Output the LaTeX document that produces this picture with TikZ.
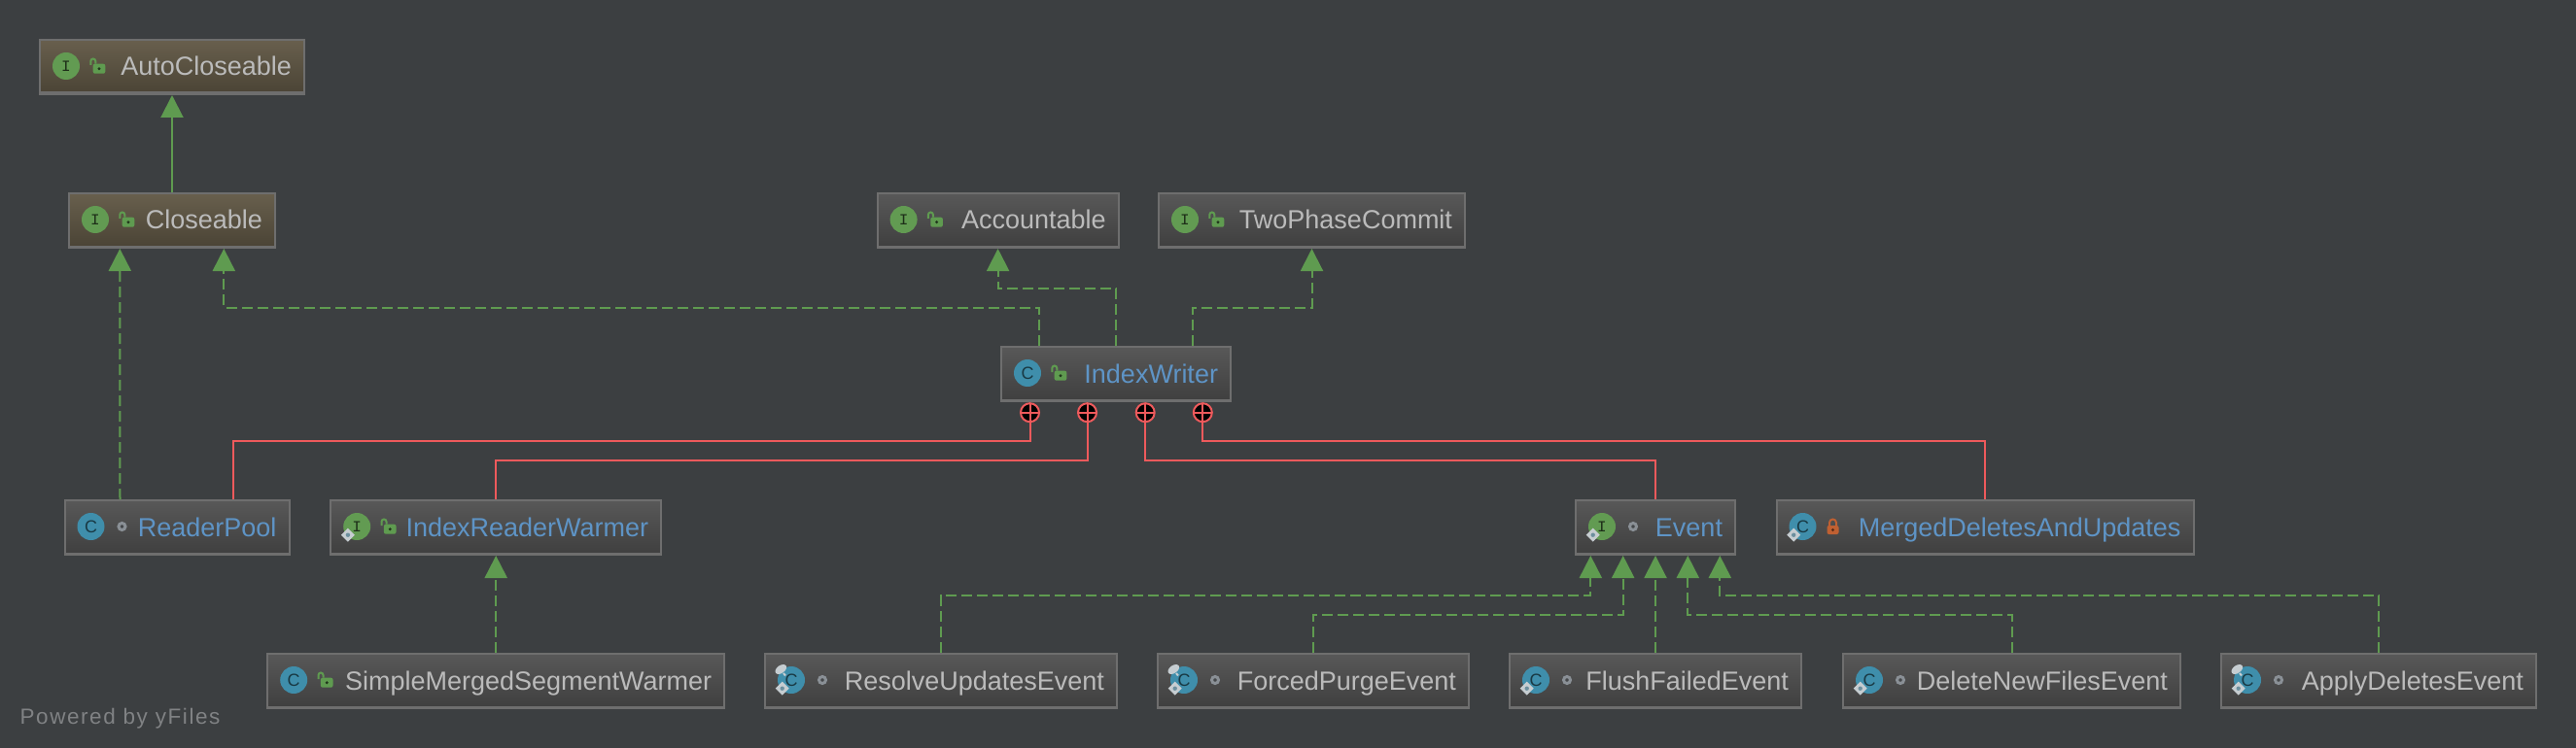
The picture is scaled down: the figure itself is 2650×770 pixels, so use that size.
\documentclass[tikz,border=0pt]{standalone}
\usepackage{fontspec}
\setmainfont{Liberation Sans}
\newfontfamily\wmfont[LetterSpace=7]{Liberation Sans}
\newfontfamily\iconfont{Liberation Mono}
\usetikzlibrary{arrows.meta}

\definecolor{canvasgrey}{HTML}{3C3F41}
\definecolor{edgegrey}{HTML}{6E6E6E}
\definecolor{boxtop}{HTML}{585858}
\definecolor{boxbottom}{HTML}{3F3F3F}
\definecolor{tantop}{HTML}{685F4D}
\definecolor{tanbottom}{HTML}{4A4335}
\definecolor{labelgrey}{HTML}{BBBBBB}
\definecolor{labelblue}{HTML}{5E94C6}
\definecolor{arrowgreen}{HTML}{5F9B50}
\definecolor{nestred}{HTML}{EE5A5C}
\definecolor{classblue}{HTML}{3F8EAB}
\definecolor{ifacegreen}{HTML}{629B52}
\definecolor{lockorange}{HTML}{BF6032}
\definecolor{markpale}{HTML}{C6CDD1}
\definecolor{dotgrey}{HTML}{8A9096}

\tikzset{
  classbox/.style={rectangle, draw=edgegrey, line width=2pt, inner xsep=13pt, inner ysep=0pt,
    minimum height=56pt, text height=22pt, text depth=4pt, text width=#1pt-28pt, align=right,
    font=\fontsize{27}{27}\selectfont, text=labelgrey, top color=boxtop, bottom color=boxbottom,
    path picture={\fill[edgegrey] (path picture bounding box.south west)
      rectangle ([yshift=2.5pt]path picture bounding box.south east);}},
  tanbox/.style={classbox=#1, top color=tantop, bottom color=tanbottom},
  classicon/.style={circle, fill=classblue, minimum size=28pt, inner sep=0pt,
    text=black!60!classblue, font=\fontsize{18}{18}\selectfont},
  ifaceicon/.style={circle, fill=ifacegreen, minimum size=28pt, inner sep=0pt,
    text=black!70!ifacegreen, font=\iconfont\fontsize{16}{16}\selectfont},
  dotmark/.style={circle, draw=dotgrey, fill=black!50!dotgrey, line width=3pt, minimum size=7pt, inner sep=0pt},
  plusmark/.style={circle, draw=nestred, fill=black, line width=2pt, minimum size=19pt, inner sep=0pt,
    path picture={\draw[nestred, line width=2pt]
      (path picture bounding box.west) -- (path picture bounding box.east)
      (path picture bounding box.north) -- (path picture bounding box.south);}},
  solidup/.style={draw=arrowgreen, line width=2pt, -{Triangle[length=23pt, width=23pt]}},
  dashedup/.style={solidup, dash pattern=on 11pt off 5pt},
  nestline/.style={draw=nestred, line width=2pt},
  lockopen/.pic={
    \fill[arrowgreen, rounded corners=2pt] (-4.3,-2.3) rectangle (8.3,7.7);
    \fill[black!65!arrowgreen] (2,2.7) circle (1.6);
    \draw[arrowgreen, line width=2pt] (-6.7,-1) -- (-6.7,-5) arc (180:360:2.5) -- (-1.7,-2.3);
  },
  lockclosed/.pic={
    \fill[lockorange, rounded corners=2pt] (-6,-1) rectangle (6,8);
    \fill[black!55!lockorange] (0,3.5) circle (1.6);
    \draw[lockorange, line width=2pt] (-3.5,-1) -- (-3.5,-4) arc (180:360:3.5) -- (3.5,-1);
  },
  staticmark/.pic={
    \fill[markpale] (-9.3,1.7) -- (-2.3,8.7) -- (-9.3,15.7) -- (-16.3,8.7) -- cycle;
    \fill[dotgrey!60!classblue] (-9.3,8.7) circle (2.2);
  },
  pinmark/.pic={
    \fill[markpale, rotate around={35:(-10.7,-11)}] (-10.7,-11) ellipse (6.5 and 4);
    \draw[markpale, line width=2pt] (-8,-7) -- (-6,-4.5);
  }
}

\begin{document}
\begin{tikzpicture}[x=1pt, y=-1pt]

\useasboundingbox (0,0) rectangle (2650,770);
\fill[canvasgrey] (0,0) rectangle (2650,770);

\node[tanbox=274] (autocloseable) at (177,69) {AutoCloseable};
\node[tanbox=214] (closeable) at (177,227) {Closeable};
\node[classbox=250] (accountable) at (1026.6,227) {Accountable};
\node[classbox=317] (twophasecommit) at (1349.5,227) {TwoPhaseCommit};
\node[classbox=238, text=labelblue] (indexwriter) at (1148,385) {IndexWriter};
\node[classbox=233, text=labelblue] (readerpool) at (182,543) {ReaderPool};
\node[classbox=342, text=labelblue] (indexreaderwarmer) at (510.2,543) {IndexReaderWarmer};
\node[classbox=166, text=labelblue] (event) at (1703,543) {Event};
\node[classbox=431, text=labelblue] (mergeddeletes) at (2042,543) {MergedDeletesAndUpdates};
\node[classbox=472] (simplemerged) at (510.2,701) {SimpleMergedSegmentWarmer};
\node[classbox=364] (resolveupdates) at (968,701) {ResolveUpdatesEvent};
\node[classbox=322] (forcedpurge) at (1351,701) {ForcedPurgeEvent};
\node[classbox=302] (flushfailed) at (1703,701) {FlushFailedEvent};
\node[classbox=349] (deletenewfiles) at (2069.5,701) {DeleteNewFilesEvent};
\node[classbox=326] (applydeletes) at (2447,701) {ApplyDeletesEvent};

% kind of each entry, then its visibility
\node[ifaceicon] (autocloseableicon) at ([xshift=28pt, yshift=1pt]autocloseable.west) {I};
\pic at ([xshift=60pt, yshift=1pt]autocloseable.west) {lockopen};
\node[ifaceicon] (closeableicon) at ([xshift=28pt, yshift=1pt]closeable.west) {I};
\pic at ([xshift=60pt, yshift=1pt]closeable.west) {lockopen};
\node[ifaceicon] (accountableicon) at ([xshift=28pt, yshift=1pt]accountable.west) {I};
\pic at ([xshift=60pt, yshift=1pt]accountable.west) {lockopen};
\node[ifaceicon] (twophasecommiticon) at ([xshift=28pt, yshift=1pt]twophasecommit.west) {I};
\pic at ([xshift=60pt, yshift=1pt]twophasecommit.west) {lockopen};
\node[classicon] (indexwritericon) at ([xshift=28pt, yshift=1pt]indexwriter.west) {C};
\pic at ([xshift=60pt, yshift=1pt]indexwriter.west) {lockopen};
\node[classicon] (readerpoolicon) at ([xshift=28pt, yshift=1pt]readerpool.west) {C};
\node[dotmark] (readerpooldot) at ([xshift=60pt, yshift=1pt]readerpool.west) {};
\node[ifaceicon] (indexreaderwarmericon) at ([xshift=28pt, yshift=1pt]indexreaderwarmer.west) {I};
\pic at (indexreaderwarmericon.center) {staticmark};
\pic at ([xshift=60pt, yshift=1pt]indexreaderwarmer.west) {lockopen};
\node[ifaceicon] (eventicon) at ([xshift=28pt, yshift=1pt]event.west) {I};
\pic at (eventicon.center) {staticmark};
\node[dotmark] (eventdot) at ([xshift=60pt, yshift=1pt]event.west) {};
\node[classicon] (mergeddeletesicon) at ([xshift=28pt, yshift=1pt]mergeddeletes.west) {C};
\pic at (mergeddeletesicon.center) {staticmark};
\pic at ([xshift=59pt, yshift=1pt]mergeddeletes.west) {lockclosed};
\node[classicon] (simplemergedicon) at ([xshift=28pt, yshift=1pt]simplemerged.west) {C};
\pic at ([xshift=60pt, yshift=1pt]simplemerged.west) {lockopen};
\node[classicon] (resolveupdatesicon) at ([xshift=28pt, yshift=1pt]resolveupdates.west) {C};
\pic at (resolveupdatesicon.center) {staticmark};
\pic at (resolveupdatesicon.center) {pinmark};
\node[dotmark] (resolveupdatesdot) at ([xshift=60pt, yshift=1pt]resolveupdates.west) {};
\node[classicon] (forcedpurgeicon) at ([xshift=28pt, yshift=1pt]forcedpurge.west) {C};
\pic at (forcedpurgeicon.center) {staticmark};
\pic at (forcedpurgeicon.center) {pinmark};
\node[dotmark] (forcedpurgedot) at ([xshift=60pt, yshift=1pt]forcedpurge.west) {};
\node[classicon] (flushfailedicon) at ([xshift=28pt, yshift=1pt]flushfailed.west) {C};
\pic at (flushfailedicon.center) {staticmark};
\node[dotmark] (flushfaileddot) at ([xshift=60pt, yshift=1pt]flushfailed.west) {};
\node[classicon] (deletenewfilesicon) at ([xshift=28pt, yshift=1pt]deletenewfiles.west) {C};
\pic at (deletenewfilesicon.center) {staticmark};
\node[dotmark] (deletenewfilesdot) at ([xshift=60pt, yshift=1pt]deletenewfiles.west) {};
\node[classicon] (applydeletesicon) at ([xshift=28pt, yshift=1pt]applydeletes.west) {C};
\pic at (applydeletesicon.center) {staticmark};
\pic at (applydeletesicon.center) {pinmark};
\node[dotmark] (applydeletesdot) at ([xshift=60pt, yshift=1pt]applydeletes.west) {};

\node[plusmark] (plusa) at (1059.5,424.7) {};
\node[plusmark] (plusb) at (1118.5,424.7) {};
\node[plusmark] (plusc) at (1178.2,424.7) {};
\node[plusmark] (plusd) at (1237.3,424.7) {};

\draw[nestline] (plusa.south) -- (1059.5,454.3) -| ([xshift=58.3pt]readerpool.north);
\draw[nestline] (plusb.south) -- (1118.5,474.3) -| (indexreaderwarmer.north);
\draw[nestline] (plusc.south) -- (1178.2,474.3) -| (event.north);
\draw[nestline] (plusd.south) -- (1237.3,454.3) -| (mergeddeletes.north);

\draw[solidup] (closeable.north) -- (autocloseable.south);
\draw[dashedup] ([xshift=-58.5pt]readerpool.north) -- ([xshift=-53.7pt]closeable.south);
\draw[dashedup] ([xshift=-79.4pt]indexwriter.north) -- ++(0,-39) -| ([xshift=53.3pt]closeable.south);
\draw[dashedup] (indexwriter.north) -- ++(0,-59) -| (accountable.south);
\draw[dashedup] ([xshift=79.4pt]indexwriter.north) -- ++(0,-39) -| (twophasecommit.south);
\draw[dashedup] (simplemerged.north) -- (indexreaderwarmer.south);
\draw[dashedup] (resolveupdates.north) -- ++(0,-58.7) -| ([xshift=-66.7pt]event.south);
\draw[dashedup] (forcedpurge.north) -- ++(0,-38.7) -| ([xshift=-33.3pt]event.south);
\draw[dashedup] (flushfailed.north) -- (event.south);
\draw[dashedup] (deletenewfiles.north) -- ++(0,-38.7) -| ([xshift=33.3pt]event.south);
\draw[dashedup] (applydeletes.north) -- ++(0,-58.7) -| ([xshift=66.3pt]event.south);

\node[anchor=base west, inner sep=0pt, text=white!35!canvasgrey, font=\wmfont\fontsize{22.5}{22.5}\selectfont]
  (poweredby) at (20.4,745.7) {Powered by yFiles};

\end{tikzpicture}
\end{document}
